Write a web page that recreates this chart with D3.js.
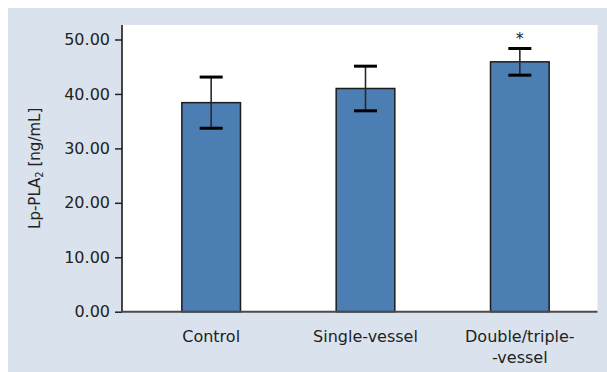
<!DOCTYPE html>
<html>
<head>
<meta charset="utf-8">
<script src="https://cdn.jsdelivr.net/npm/d3@7"></script>
<style>
  body { margin: 0; background: #fff; }
  svg { display: block; font-family: "DejaVu Sans", sans-serif; }
</style>
</head>
<body>
<div id="chart"></div>
<script>
// Data
const groups = ["Control", "Single-vessel", "Double/triple-vessel"];
const groupLines = [["Control"], ["Single-vessel"], ["Double/triple-", "-vessel"]];
const means = [38.4, 41.0, 45.9];
const errors = [4.7, 4.1, 2.45];
const significant = [false, false, true];
const yTicks = [0, 10, 20, 30, 40, 50];

const fullWidth = 607;
const fullHeight = 372;

const svg = d3.select("#chart")
  .append("svg")
  .attr("width", fullWidth)
  .attr("height", fullHeight);

// Background panel
svg.append("rect")
  .attr("x", 8)
  .attr("y", 8)
  .attr("width", fullWidth - 8)
  .attr("height", fullHeight - 8)
  .attr("fill", "#dae3ed");

const plotLeft = 122, plotRight = 597.5, plotTop = 25, plotBottom = 311.7;

svg.append("rect")
  .attr("x", plotLeft)
  .attr("y", plotTop)
  .attr("width", plotRight - plotLeft)
  .attr("height", plotBottom - plotTop)
  .attr("fill", "#fff");

// Scales
const xScale = d3.scaleBand()
  .domain(groups)
  .range([134, 597])
  .paddingInner(0.62)
  .paddingOuter(0.31);

const yScale = d3.scaleLinear()
  .domain([0, 50])
  .range([plotBottom, 39.5]);

// Bars
svg.selectAll(".bar")
  .data(groups)
  .join("rect")
  .attr("class", "bar")
  .attr("x", d => xScale(d))
  .attr("y", (d, i) => yScale(means[i]))
  .attr("width", xScale.bandwidth())
  .attr("height", (d, i) => plotBottom - yScale(means[i]))
  .attr("fill", "#4b7eb2")
  .attr("stroke", "#1c1c1c")
  .attr("stroke-width", 1.5);

// Error bars
const capHalf = 11.5;
groups.forEach((g, i) => {
  const cx = xScale(g) + xScale.bandwidth() / 2;
  const hi = yScale(means[i] + errors[i]);
  const lo = yScale(means[i] - errors[i]);
  svg.append("line")
    .attr("x1", cx).attr("x2", cx)
    .attr("y1", hi).attr("y2", lo)
    .attr("stroke", "#2a2a2a")
    .attr("stroke-width", 1.6);
  [hi, lo].forEach(y => {
    svg.append("line")
      .attr("x1", cx - capHalf).attr("x2", cx + capHalf)
      .attr("y1", y).attr("y2", y)
      .attr("stroke", "#000")
      .attr("stroke-width", 3);
  });
  if (significant[i]) {
    svg.append("text")
      .attr("x", cx)
      .attr("y", hi - 4)
      .attr("text-anchor", "middle")
      .style("font-size", "16px")
      .attr("fill", "#222")
      .text("*");
  }
});

// Y Axis
const yAxis = svg.append("g")
  .attr("transform", `translate(${plotLeft},0)`)
  .call(d3.axisLeft(yScale)
    .tickValues(yTicks)
    .tickFormat(d3.format(".2f"))
    .tickSize(7)
    .tickPadding(5));

yAxis.select(".domain").remove();
yAxis.selectAll("line").attr("stroke", "#222").attr("stroke-width", 1.5);
yAxis.selectAll("text")
  .style("font-size", "16px")
  .style("font-family", "'DejaVu Sans', sans-serif")
  .attr("fill", "#222");

svg.append("line")
  .attr("x1", plotLeft).attr("x2", plotLeft)
  .attr("y1", plotTop).attr("y2", plotBottom)
  .attr("stroke", "#1a1a1a")
  .attr("stroke-width", 1.6);

// X axis line
svg.append("line")
  .attr("x1", plotLeft).attr("x2", plotRight)
  .attr("y1", plotBottom).attr("y2", plotBottom)
  .attr("stroke", "#4a4a4a")
  .attr("stroke-width", 2);

// X labels
groups.forEach((g, i) => {
  const cx = xScale(g) + xScale.bandwidth() / 2;
  const t = svg.append("text")
    .attr("x", cx)
    .attr("y", 342)
    .attr("text-anchor", "middle")
    .style("font-size", "16px")
    .attr("fill", "#222");
  groupLines[i].forEach((line, j) => {
    t.append("tspan")
      .attr("x", cx)
      .attr("dy", j === 0 ? 0 : 21)
      .text(line);
  });
});

// Y Axis Label
const yLabel = svg.append("text")
  .attr("transform", `translate(40,${(plotTop + plotBottom) / 2}) rotate(-90)`)
  .attr("text-anchor", "middle")
  .style("font-size", "15px")
  .attr("fill", "#222");
yLabel.append("tspan").text("Lp-PLA");
yLabel.append("tspan").attr("dy", 3).style("font-size", "10px").text("2");
yLabel.append("tspan").attr("dy", -3).text(" [ng/mL]");
</script>
</body>
</html>
